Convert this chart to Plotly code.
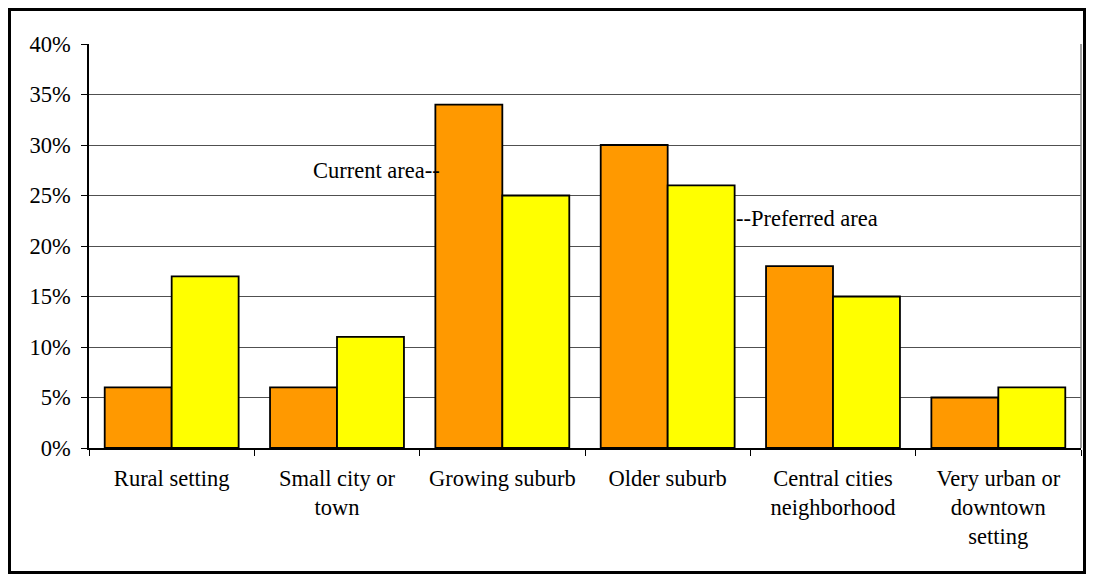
import plotly.graph_objects as go

categories = ["Rural setting", "Small city or<br>town", "Growing suburb", "Older suburb",
              "Central cities<br>neighborhood", "Very urban or<br>downtown<br>setting"]
current_area = [6, 6, 34, 30, 18, 5]
preferred_area = [17, 11, 25, 26, 15, 6]
y_ticks = [0, 5, 10, 15, 20, 25, 30, 35, 40]
y_tick_labels = [f"{v}%" for v in y_ticks]

FONT = "'Times New Roman', 'Liberation Serif', Tinos, 'DejaVu Serif', serif"
FS = 22.5

# figure sits 8px from the page edge (body margin); keep it inside the window
W, H = 1078, 566
L, T, R, B = 81, 36, 5, 126
PW, PH = W - L - R, H - T - B

fig = go.Figure()
fig.add_trace(go.Bar(x=categories, y=current_area, name="Current area",
                     marker=dict(color="#FF9900", line=dict(color="black", width=1.8))))
fig.add_trace(go.Bar(x=categories, y=preferred_area, name="Preferred area",
                     marker=dict(color="#FFFF00", line=dict(color="black", width=1.8))))

fig.update_layout(
    width=W, height=H,
    margin=dict(l=L, r=R, t=T, b=B),
    paper_bgcolor="white", plot_bgcolor="white",
    barmode="group", bargap=0.19, bargroupgap=0,
    showlegend=False,
    font=dict(family=FONT, size=FS, color="black"),
)
fig.update_xaxes(
    type="category", showline=True, linecolor="black", linewidth=1.5,
    ticks="outside", tickson="boundaries", ticklen=6, tickcolor="black",
    tickfont=dict(family=FONT, size=FS), showgrid=False,
    ticklabelstandoff=9,
)
fig.update_yaxes(
    range=[0, 40], tickvals=y_ticks, ticktext=y_tick_labels,
    showline=True, linecolor="black", linewidth=1.5,
    ticks="outside", ticklen=6, tickcolor="black",
    showgrid=True, gridcolor="#505050", gridwidth=1,
    zeroline=False, tickfont=dict(family=FONT, size=FS),
    ticklabelstandoff=6,
)

# plot area right border
fig.add_shape(type="line", xref="paper", yref="paper", x0=1, x1=1, y0=0, y1=1,
              line=dict(color="#808080", width=1.5))
# outer chart border
fig.add_shape(type="rect", xref="paper", yref="paper",
              x0=(1.5 - L) / PW, x1=(W - 1.5 - L) / PW,
              y0=(T + PH - (H - 1.5)) / PH, y1=(T + PH - 1.5) / PH,
              line=dict(color="black", width=3))

fig.add_annotation(x=categories[2], y=27.5, xref="x", yref="y", text="Current area--",
                   showarrow=False, xanchor="right", xshift=-60, font=dict(size=FS))
fig.add_annotation(x=categories[3], y=22.7, xref="x", yref="y", text="--Preferred area",
                   showarrow=False, xanchor="left", xshift=66, font=dict(size=FS))

fig.write_html("out.html")
